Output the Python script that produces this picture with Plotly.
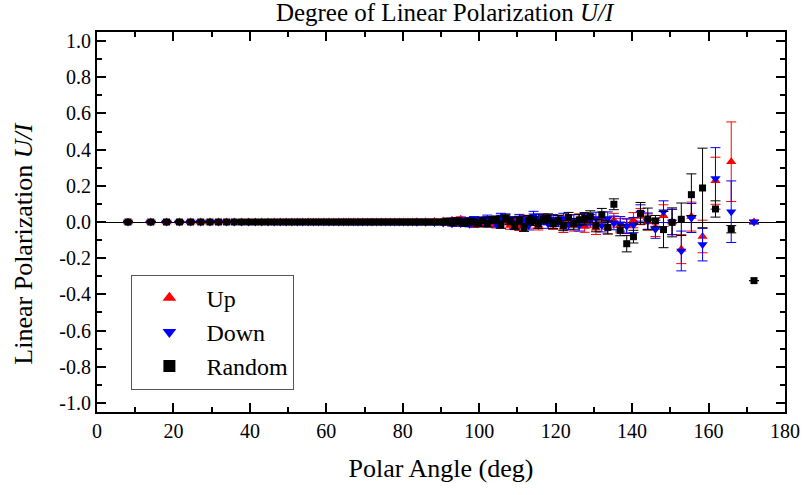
import plotly.graph_objects as go

# Polar angle bin centres (deg)
angle = [
    8.11, 14.07, 18.19, 21.57, 24.49, 27.13, 29.54, 31.79, 33.90, 35.90,
    37.81, 39.65, 41.41, 43.11, 44.77, 46.37, 47.93, 49.46, 50.95, 52.41,
    53.84, 55.25, 56.63, 57.99, 59.34, 60.66, 61.97, 63.26, 64.53, 65.80,
    67.05, 68.28, 69.51, 70.73, 71.94, 73.14, 74.34, 75.52, 76.70, 77.88,
    79.05, 80.21, 81.37, 82.53, 83.68, 84.84, 85.99, 87.13, 88.28, 89.43,
    90.57, 91.72, 92.87, 94.01, 95.16, 96.32, 97.47, 98.63, 99.79, 100.95,
    102.12, 103.30, 104.48, 105.66, 106.86, 108.06, 109.27, 110.49, 111.72, 112.95,
    114.20, 115.47, 116.74, 118.03, 119.34, 120.66, 122.01, 123.37, 124.75, 126.16,
    127.59, 129.05, 130.54, 132.07, 133.63, 135.23, 136.89, 138.59, 140.35, 142.19,
    144.10, 146.10, 148.21, 150.46, 152.87, 155.51, 158.43, 161.81, 165.93, 171.89,
]

up = [
    0.0, 0.0, 0.0, 0.0, 0.0, 0.0, 0.0, 0.0, 0.0, 0.0,
    0.0, 0.0, 0.0, 0.0, 0.0, 0.0, 0.0, 0.0, 0.0, 0.0,
    0.0, 0.0, 0.0, 0.0, 0.0, 0.0, 0.0, 0.0, 0.0, 0.0,
    0.0, 0.0, 0.0, 0.0, 0.0, 0.0, 0.0, 0.0, 0.0, 0.0,
    0.0, 0.0, 0.0, 0.0, 0.001, -0.001, 0.002, -0.002, 0.003, -0.003,
    0.005, -0.008, 0.010, -0.012, 0.015, -0.005, 0.008, -0.015, 0.010, -0.010,
    0.012, -0.008, -0.015, 0.010, 0.005, -0.020, 0.008, -0.025, 0.015, -0.010,
    0.005, -0.020, 0.020, 0.010, -0.015, 0.012, -0.030, 0.010, -0.020, 0.015,
    -0.025, 0.000, -0.035, 0.020, -0.030, 0.010, -0.020, -0.020, 0.010, 0.030,
    0.000, -0.030, 0.035, 0.000, -0.150, 0.030, -0.080, 0.228, 0.333, 0.000,
]
up_err = [
    0.002, 0.002, 0.002, 0.002, 0.002, 0.002, 0.002, 0.002, 0.002, 0.002,
    0.002, 0.002, 0.002, 0.002, 0.002, 0.002, 0.002, 0.002, 0.002, 0.002,
    0.002, 0.002, 0.002, 0.002, 0.002, 0.002, 0.002, 0.002, 0.002, 0.002,
    0.003, 0.003, 0.003, 0.003, 0.003, 0.003, 0.003, 0.003, 0.003, 0.003,
    0.004, 0.004, 0.004, 0.004, 0.005, 0.005, 0.006, 0.006, 0.007, 0.008,
    0.010, 0.010, 0.012, 0.012, 0.014, 0.014, 0.015, 0.015, 0.016, 0.016,
    0.018, 0.018, 0.018, 0.020, 0.020, 0.020, 0.022, 0.022, 0.022, 0.024,
    0.024, 0.024, 0.025, 0.025, 0.026, 0.026, 0.028, 0.028, 0.030, 0.030,
    0.032, 0.032, 0.034, 0.035, 0.036, 0.038, 0.040, 0.040, 0.042, 0.045,
    0.045, 0.050, 0.060, 0.070, 0.080, 0.080, 0.090, 0.130, 0.220, 0.010,
]

down = [
    0.0, 0.0, 0.0, 0.0, 0.0, 0.0, 0.0, 0.0, 0.0, 0.0,
    0.0, 0.0, 0.0, 0.0, 0.0, 0.0, 0.0, 0.0, 0.0, 0.0,
    0.0, 0.0, 0.0, 0.0, 0.0, 0.0, 0.0, 0.0, 0.0, 0.0,
    0.0, 0.0, 0.0, 0.0, 0.0, 0.0, 0.0, 0.0, 0.0, 0.0,
    0.0, 0.0, 0.0, 0.0, -0.001, 0.001, -0.002, 0.002, -0.003, 0.003,
    -0.005, 0.010, -0.010, 0.012, -0.008, 0.010, -0.012, 0.015, -0.005, 0.012,
    0.020, 0.010, -0.010, 0.028, 0.025, 0.010, -0.015, 0.020, 0.010, -0.020,
    0.035, 0.020, 0.010, -0.010, 0.015, 0.000, 0.020, -0.015, 0.010, -0.020,
    0.015, 0.010, 0.020, -0.020, 0.020, -0.005, -0.010, -0.024, -0.017, 0.050,
    0.005, -0.040, 0.057, 0.000, -0.160, 0.022, -0.125, 0.241, 0.057, 0.000,
]
down_err = [
    0.002, 0.002, 0.002, 0.002, 0.002, 0.002, 0.002, 0.002, 0.002, 0.002,
    0.002, 0.002, 0.002, 0.002, 0.002, 0.002, 0.002, 0.002, 0.002, 0.002,
    0.002, 0.002, 0.002, 0.002, 0.002, 0.002, 0.002, 0.002, 0.002, 0.002,
    0.003, 0.003, 0.003, 0.003, 0.003, 0.003, 0.003, 0.003, 0.003, 0.003,
    0.004, 0.004, 0.004, 0.004, 0.005, 0.005, 0.006, 0.006, 0.007, 0.008,
    0.010, 0.010, 0.012, 0.012, 0.014, 0.014, 0.015, 0.015, 0.016, 0.016,
    0.018, 0.018, 0.018, 0.020, 0.020, 0.020, 0.022, 0.022, 0.022, 0.024,
    0.024, 0.024, 0.025, 0.025, 0.026, 0.026, 0.028, 0.028, 0.030, 0.030,
    0.032, 0.032, 0.034, 0.035, 0.036, 0.038, 0.040, 0.040, 0.042, 0.045,
    0.045, 0.050, 0.060, 0.070, 0.110, 0.080, 0.090, 0.170, 0.170, 0.010,
]

rand = [
    0.0, 0.0, 0.0, 0.0, 0.0, 0.0, 0.0, 0.0, 0.0, 0.0,
    0.0, 0.0, 0.0, 0.0, 0.0, 0.0, 0.0, 0.0, 0.0, 0.0,
    0.0, 0.0, 0.0, 0.0, 0.0, 0.0, 0.0, 0.0, 0.0, 0.0,
    0.0, 0.0, 0.0, 0.0, 0.0, 0.0, 0.0, 0.0, 0.0, 0.0,
    0.0, 0.0, 0.0, 0.0, 0.0, 0.0, 0.0, 0.0, 0.0, 0.0,
    0.000, 0.005, -0.005, 0.008, 0.000, -0.008, 0.005, 0.000, -0.010, 0.008,
    -0.010, 0.010, 0.015, -0.015, 0.020, 0.005, -0.020, 0.010, -0.030, 0.012,
    0.005, -0.012, 0.015, 0.020, -0.010, 0.010, -0.020, 0.025, -0.010, 0.012,
    0.020, 0.030, -0.020, 0.040, -0.030, 0.098, -0.046, -0.120, -0.081, 0.048,
    0.017, 0.006, -0.042, -0.002, 0.015, 0.151, 0.188, 0.072, -0.040, -0.324,
]
rand_err = [
    0.002, 0.002, 0.002, 0.002, 0.002, 0.002, 0.002, 0.002, 0.002, 0.002,
    0.002, 0.002, 0.002, 0.002, 0.002, 0.002, 0.002, 0.002, 0.002, 0.002,
    0.002, 0.002, 0.002, 0.002, 0.002, 0.002, 0.002, 0.002, 0.002, 0.002,
    0.003, 0.003, 0.003, 0.003, 0.003, 0.003, 0.003, 0.003, 0.003, 0.003,
    0.004, 0.004, 0.004, 0.004, 0.005, 0.005, 0.006, 0.006, 0.007, 0.008,
    0.010, 0.010, 0.012, 0.012, 0.014, 0.014, 0.015, 0.015, 0.016, 0.016,
    0.018, 0.018, 0.018, 0.020, 0.020, 0.020, 0.022, 0.022, 0.022, 0.024,
    0.024, 0.024, 0.025, 0.025, 0.026, 0.026, 0.028, 0.028, 0.030, 0.030,
    0.032, 0.032, 0.034, 0.035, 0.036, 0.030, 0.030, 0.045, 0.035, 0.060,
    0.060, 0.030, 0.100, 0.080, 0.090, 0.115, 0.220, 0.045, 0.020, 0.000,
]

x_tickvals = [0, 20, 40, 60, 80, 100, 120, 140, 160, 180]
y_tickvals = [-1.0, -0.8, -0.6, -0.4, -0.2, 0.0, 0.2, 0.4, 0.6, 0.8, 1.0]
y_ticktext = ["-1.0", "-0.8", "-0.6", "-0.4", "-0.2", "0.0", "0.2", "0.4", "0.6", "0.8", "1.0"]

FONT = "Liberation Serif"

fig = go.Figure()

series = [
    ("Up", up, up_err, "#ff0000", "triangle-up", 9),
    ("Down", down, down_err, "#0000ff", "triangle-down", 9),
    ("Random", rand, rand_err, "#000000", "square", 7),
]
for name, ys, es, col, sym, sz in series:
    fig.add_trace(go.Scatter(
        x=angle, y=ys, mode="markers", name=name,
        marker=dict(symbol=sym, size=sz, color=col, line=dict(width=0)),
        error_y=dict(type="data", array=es, visible=True, color=col,
                     thickness=1, width=5),
    ))

axis_common = dict(
    showline=True, linecolor="black", linewidth=2, mirror="ticks",
    ticks="inside", tickcolor="black", tickwidth=2, ticklen=9,
    showgrid=False, tickfont=dict(family=FONT, size=20, color="black"),
)

fig.update_xaxes(
    range=[0, 180], tickvals=x_tickvals,
    minor=dict(dtick=10, tick0=0, ticks="inside", ticklen=5, tickwidth=2, tickcolor="black"),
    title=dict(text="Polar Angle (deg)", font=dict(family=FONT, size=26, color="black"),
               standoff=18),
    zeroline=False,
    **axis_common,
)
fig.update_yaxes(
    range=[-1.05, 1.05], tickvals=y_tickvals, ticktext=y_ticktext,
    minor=dict(dtick=0.1, tick0=0, ticks="inside", ticklen=5, tickwidth=2, tickcolor="black"),
    zeroline=True, zerolinecolor="black", zerolinewidth=1,
    **axis_common,
)

fig.add_annotation(
    text="Linear Polarization <i>U/I</i>", textangle=-90,
    xref="paper", yref="paper", x=-0.107, y=0.444,
    xanchor="center", yanchor="middle", showarrow=False,
    font=dict(family=FONT, size=26, color="black"),
)

fig.update_layout(
    width=812, height=495,
    margin=dict(l=97, r=20, t=32, b=83),
    paper_bgcolor="white", plot_bgcolor="white",
    title=dict(text="Degree of Linear Polarization <i>U/I</i>",
               font=dict(family=FONT, size=25, color="black"),
               x=0.5475, xanchor="center", y=0.975, yanchor="middle"),
    legend=dict(x=0.05, y=0.3616, xanchor="left", yanchor="top",
                bordercolor="#555555", borderwidth=1, bgcolor="white",
                font=dict(family=FONT, size=24, color="black"),
                itemsizing="constant", itemwidth=64, tracegroupgap=0),
    showlegend=True,
)

fig.write_html("out.html")
